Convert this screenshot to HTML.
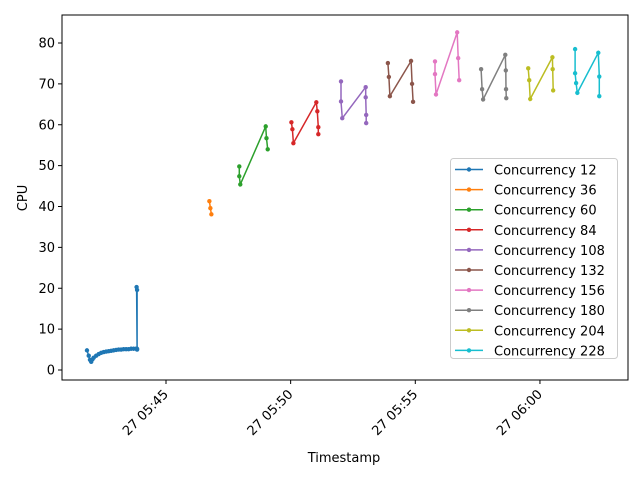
<!DOCTYPE html>
<html><head><meta charset="utf-8"><style>
body{margin:0;background:#fff}
svg text{font-family:"DejaVu Sans","Liberation Sans",sans-serif;font-size:13px;fill:#000}
</style></head><body>
<svg id="chart" width="640" height="480" viewBox="0 0 640 480" xmlns="http://www.w3.org/2000/svg">
<rect width="640" height="480" fill="#fff"/>
<g id="plot"></g>
<rect x="62" y="15" width="566" height="365" fill="none" stroke="#000" stroke-width="1"/>
<g id="axes"></g>
<text x="344" y="462" text-anchor="middle">Timestamp</text>
<text transform="translate(27,198) rotate(-90)" text-anchor="middle">CPU</text>
<g id="legend"></g>
</svg>
<script>
// times in minutes after 05:00 on the 27th
const seriesNames = ["Concurrency 12","Concurrency 36","Concurrency 60","Concurrency 84","Concurrency 108","Concurrency 132","Concurrency 156","Concurrency 180","Concurrency 204","Concurrency 228"];
const colors = ["#1f77b4","#ff7f0e","#2ca02c","#d62728","#9467bd","#8c564b","#e377c2","#7f7f7f","#bcbd22","#17becf"];
const t12 = [41.83,41.9,41.95,42.0,42.05,42.1,42.2,42.3,42.4,42.5,42.6,42.7,42.8,42.9,43.0,43.1,43.2,43.3,43.4,43.5,43.6,43.7,43.8,43.84,43.84,43.82,43.84];
const v12 = [4.8,3.5,2.5,2.0,2.6,3.0,3.5,3.9,4.2,4.4,4.5,4.6,4.7,4.8,4.9,5.0,5.0,5.1,5.1,5.1,5.2,5.2,5.2,5.2,19.6,20.3,5.0];
const t36 = [46.74,46.78,46.82];
const v36 = [41.3,39.6,38.1];
const t60 = [47.94,47.94,47.98,49.0,49.03,49.08];
const v60 = [49.8,47.4,45.4,59.6,56.7,54.0];
const t84 = [50.03,50.07,50.11,51.03,51.07,51.11,51.11];
const v84 = [60.6,58.9,55.5,65.5,63.3,59.4,57.7];
const t108 = [52.02,52.02,52.07,53.01,53.01,53.03,53.03];
const v108 = [70.6,65.7,61.6,69.2,66.7,62.4,60.4];
const t132 = [53.9,53.94,53.98,54.83,54.87,54.91];
const v132 = [75.1,71.7,67.0,75.6,70.0,65.6];
const t156 = [55.79,55.79,55.83,56.68,56.72,56.76];
const v156 = [75.5,72.4,67.4,82.6,76.3,70.9];
const t180 = [57.64,57.68,57.72,58.61,58.63,58.64,58.65];
const v180 = [73.6,68.7,66.2,77.1,73.3,68.7,66.5];
const t204 = [59.53,59.57,59.61,60.5,60.51,60.53];
const v204 = [73.8,70.9,66.3,76.5,73.6,68.4];
const t228 = [61.41,61.41,61.45,61.5,62.34,62.38,62.38];
const v228 = [78.5,72.6,70.2,67.8,77.6,71.8,67.0];
const allT = [t12,t36,t60,t84,t108,t132,t156,t180,t204,t228];
const allV = [v12,v36,v60,v84,v108,v132,v156,v180,v204,v228];
const yTicks = [0,10,20,30,40,50,60,70,80];
const xTicks = [45,50,55,60];
const xTickLabels = ["27 05:45","27 05:50","27 05:55","27 06:00"];

const NS="http://www.w3.org/2000/svg";
function X(t){return 166+(t-45)*24.93;}
function Y(v){return 370-v*4.0875;}
function mk(tag,attrs,parent){const e=document.createElementNS(NS,tag);for(const k in attrs)e.setAttribute(k,attrs[k]);parent.appendChild(e);return e;}
const plot=document.getElementById('plot'),axes=document.getElementById('axes'),legend=document.getElementById('legend');

allT.forEach((ts,i)=>{
  const g=mk('g',{},plot);
  
  
  const pts=ts.map((t,j)=>X(t).toFixed(1)+','+Y(allV[i][j]).toFixed(1)).join(' ');
  const pl=mk('polyline',{points:pts,fill:'none',stroke:colors[i],'stroke-width':1.5},g);
  
  
  ts.forEach((t,j)=>{
    const c=mk('circle',{cx:X(t),cy:Y(allV[i][j]),r:2.2,fill:colors[i]},g);
    
    
  });
});

yTicks.forEach(v=>{
  const l=mk('line',{x1:58,x2:62,y1:Y(v),y2:Y(v),stroke:'#000'},axes);
  
  
  const tx=mk('text',{x:55,y:Y(v)+4.5,'text-anchor':'end'},axes);
  tx.textContent=v;
  
  
});
xTicks.forEach((t,i)=>{
  const l=mk('line',{x1:X(t),x2:X(t),y1:380,y2:384,stroke:'#000'},axes);
  
  
  const tx=mk('text',{transform:'translate('+(X(t)+3)+',395) rotate(-45)','text-anchor':'end'},axes);
  tx.textContent=xTickLabels[i];
  
  
});

const lb=mk('rect',{x:450.5,y:158.5,width:167,height:200,rx:3,fill:'#fff','fill-opacity':0.8,stroke:'#ccc'},legend);


seriesNames.forEach((n,i)=>{
  const y=169.5+i*20.1;
  const g=mk('g',{},legend);
  
  
  mk('line',{x1:455,x2:483,y1:y,y2:y,stroke:colors[i],'stroke-width':1.5},g);
  mk('circle',{cx:469,cy:y,r:2.2,fill:colors[i]},g);
  const tx=mk('text',{x:494,y:y+5},g);
  tx.textContent=n;
});
</script>
</body></html>
